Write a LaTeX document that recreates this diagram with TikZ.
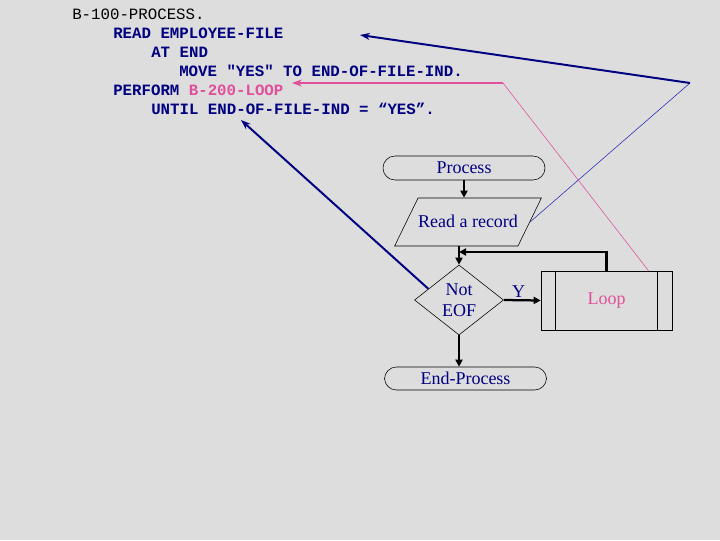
\documentclass[tikz,border=0pt]{standalone}
\usepackage{fontspec}
\setmainfont{Liberation Serif}
\newfontfamily\codefont{Liberation Mono}
\usepackage{xcolor}
\usetikzlibrary{arrows.meta,positioning,shapes.geometric}
\definecolor{cobolnavy}{HTML}{000080}
\definecolor{cobolblue}{HTML}{2A2AB8}
\definecolor{cobolpink}{HTML}{E0509A}
\definecolor{cobolbg}{HTML}{DDDDDD}

\begin{document}
\begin{tikzpicture}[
    x=0.025cm, y=-0.025cm,
    codeline/.style={anchor=west, inner sep=0pt, font=\codefont\bfseries\fontsize{11.2}{13}\selectfont, cobolnavy},
    terminal/.style={draw, thin, rounded corners=0.3cm, minimum width=4.05cm,
                     minimum height=0.6cm, inner sep=0pt, text=cobolnavy},
    io/.style={draw, thin, trapezium, trapezium left angle=64, trapezium right angle=116,
               trapezium stretches body, minimum width=3.6cm,
               text height=0.6cm+4.2pt, text depth=0.6cm-4.2pt,
               inner sep=0pt, text=cobolnavy},
    decision/.style={draw, thin, diamond, minimum width=2.225cm, minimum height=1.75cm,
                     inner sep=0pt, align=center, text=cobolnavy},
    subproc/.style={draw, thin, minimum width=3.275cm, minimum height=1.475cm, inner sep=0pt},
    flow/.style={-{Triangle[length=5pt,width=5pt]}, line width=1.6pt},
    link/.style={-{Stealth[length=7pt,width=5pt]}, line width=1.4pt},
]
\fill[cobolbg] (0,0) rectangle (720,540);
\useasboundingbox (0,0) rectangle (720,540);
\fontsize{12.8}{15}\selectfont

% COBOL code
\node[codeline, black, font=\codefont\fontsize{11.2}{13}\selectfont] (l1) at (72,14) {B-100-PROCESS.};
\node[codeline] (l2) at (113,33) {READ EMPLOYEE-FILE};
\node[codeline] (l3) at (151,52) {AT END};
\node[codeline] (l4) at (179,71) {MOVE "YES" TO END-OF-FILE-IND.};
\node[codeline] (l5) at (113,90) {PERFORM \textcolor{cobolpink}{B-200-LOOP}};
\node[codeline] (l6) at (151,109) {UNTIL END-OF-FILE-IND = “YES”.};

% Flowchart nodes
\node[terminal] (proc) at (464,168) {Process};
\node[io] (read) at (468,222) {Read a record};
\node[decision] (dec) at (459,300) {Not\\EOF};
\node[subproc] (loop) at (606.5,300.5) {\textcolor{cobolpink}{Loop}};
\draw[thin] ([xshift=0.375cm]loop.north west) -- ([xshift=0.375cm]loop.south west);
\draw[thin] ([xshift=-0.375cm]loop.north east) -- ([xshift=-0.375cm]loop.south east);
\node[terminal, minimum height=0.575cm] (endp) at (465.5,378.5) {End-Process};

% Flowchart edges
\coordinate (join) at (dec.north |- 0,252);
\draw[flow] (proc.south) -- (proc.south |- read.north);
\draw[flow] (dec.north |- read.south) -- (dec.north);
\draw[flow] (dec.east) -- node[above, pos=0.4, text=cobolnavy, inner sep=1pt] {Y} (loop.west);
\draw[flow] (dec.south) -- (dec.south |- endp.north);
\draw[flow] (loop.north) |- (join);

% Links to the code
\coordinate (bendread) at (690,83);
\coordinate (readtip) at (360,35);
\coordinate (bendloop) at (503,83);
\coordinate (looptip) at (292,83);
\coordinate (untiltip) at (241,120);
\draw[cobolblue, thin] (read.east) -- (bendread);
\draw[link, cobolnavy] (bendread) -- (readtip);
\draw[cobolpink, thin] ([xshift=1.05cm]loop.north) -- (bendloop);
\draw[link, cobolpink] (bendloop) -- (looptip);
\draw[link, cobolnavy] (dec.160) -- (untiltip);
\end{tikzpicture}
\end{document}
